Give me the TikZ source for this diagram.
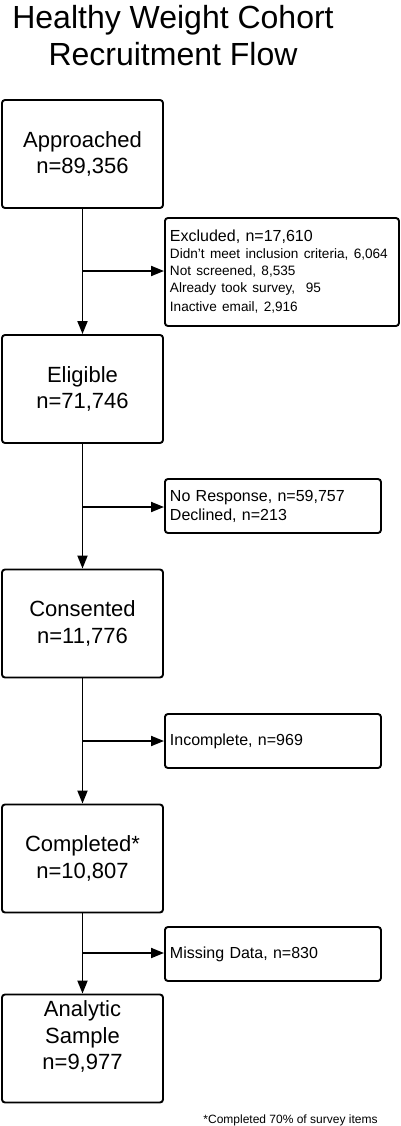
\documentclass[tikz,border=0pt]{standalone}
\usepackage{fontspec}
\setmainfont{Liberation Sans}
\usetikzlibrary{arrows.meta, positioning}
\newcommand{\titlefont}{\fontsize{32}{37}\selectfont}
\newcommand{\stagefont}{\fontsize{22}{26.5}\selectfont}
\newcommand{\sidefont}{\fontsize{16}{19}\selectfont}
\newcommand{\reasonfont}{\fontsize{13.6}{17}\selectfont}

\begin{document}
\begin{tikzpicture}[x=1pt, y=-1pt,
  stage/.style={draw, line width=1.9pt, rounded corners=3pt, minimum width=161pt, minimum height=108pt, inner sep=0pt, align=center, font=\stagefont},
  side/.style={draw, line width=1.9pt, rounded corners=3pt, anchor=west, inner xsep=5pt, inner ysep=0pt, align=left, font=\sidefont},
  flow/.style={line width=1.9pt, -{Triangle[length=13pt, width=10pt]}}]
\useasboundingbox (0,0) rectangle (400,1126);

\node [align=center, font=\titlefont, inner sep=0pt] (title) at (173,35.5) {Healthy Weight Cohort\\ Recruitment Flow};

% main stages
\node [stage] (approached) at (82.5,154) {Approached\\ n=89,356};
\node [stage] (eligible) at (82.5,389) {Eligible\\ n=71,746};
\node [stage] (consented) at (82.5,623.5) {Consented\\ n=11,776};
\node [stage] (completed) at (82.5,858.5) {Completed*\\ n=10,807};
\node [stage] (analytic) at (82.5,1048.5) {Analytic\\ Sample\\ n=9,977\\ \mbox{}};

% losses
\node [side, text width=224pt, minimum height=108pt] (excluded) at (164,272) {{\sidefont Excluded, n=17,610}\\ \reasonfont Didn't meet inclusion criteria, 6,064\\ \reasonfont Not screened, 8,535\\ \reasonfont Already took survey,\ \ 95\\ \reasonfont Inactive email, 2,916};
\node [side, text width=206pt, minimum height=54pt] (noresponse) at (164,506) {No Response, n=59,757\\ Declined, n=213};
\node [side, text width=206pt, minimum height=54pt] (incomplete) at (164,741) {Incomplete, n=969};
\node [side, text width=206pt, minimum height=54pt] (missing) at (164,954) {Missing Data, n=830};

\draw (approached) edge[flow] (eligible);
\draw (eligible) edge[flow] (consented);
\draw (consented) edge[flow] (completed);
\draw (completed) edge[flow] (analytic);

\coordinate (split1) at (82.5,271);
\coordinate (split2) at (82.5,507);
\coordinate (split3) at (82.5,741);
\coordinate (split4) at (82.5,953);
\draw [flow] (split1) -- (split1 -| excluded.west);
\draw [flow] (split2) -- (split2 -| noresponse.west);
\draw [flow] (split3) -- (split3 -| incomplete.west);
\draw [flow] (split4) -- (split4 -| missing.west);

\node [anchor=base, font=\fontsize{12}{14}\selectfont, inner sep=0pt] (note) at (290.5,1123) {*Completed 70\% of survey items};
\end{tikzpicture}
\end{document}
